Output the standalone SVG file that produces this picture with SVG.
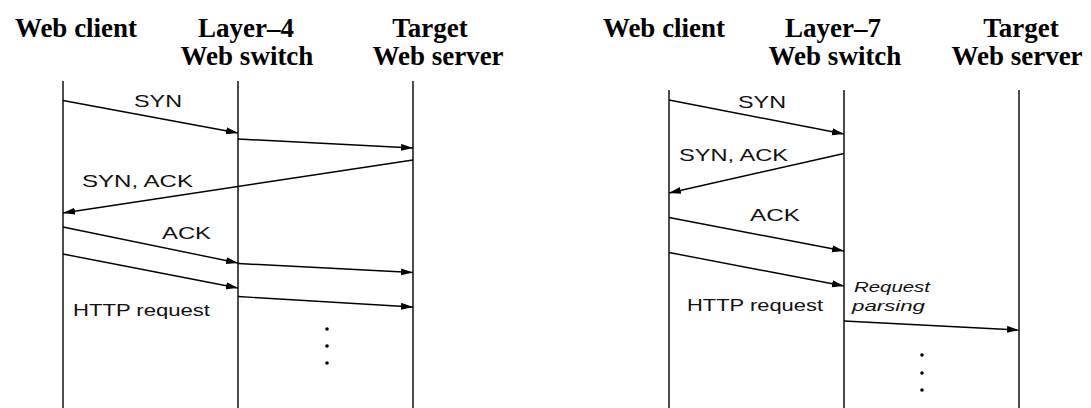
<svg xmlns="http://www.w3.org/2000/svg" width="1091" height="408" viewBox="0 0 1091 408">
<style>
.hdr{font-family:"Liberation Serif","Times New Roman",serif;font-weight:bold;font-size:27px;fill:#000;text-anchor:middle}
.lbl{font-family:"Liberation Sans",Arial,sans-serif;font-size:17px;fill:#111}
.it{font-family:"Liberation Sans",Arial,sans-serif;font-style:italic;font-size:15px;fill:#111}
.life{stroke:#000;stroke-width:1.4;fill:none}
.msg{stroke:#000;stroke-width:1.4;fill:none;marker-end:url(#ah)}
.dot{fill:#000}
</style>
<defs>
<marker id="ah" markerUnits="userSpaceOnUse" markerWidth="13" markerHeight="8" refX="12" refY="3.5" orient="auto">
<path d="M0,0 L12,3.5 L0,7 z" fill="#000"/>
</marker>
</defs>
<rect width="1091" height="408" fill="#fff"/>
<!-- Left panel nodes -->
<g id="l4-client">
<text class="hdr" x="76" y="37">Web client</text>
<line class="life" x1="63" y1="81" x2="63" y2="408"/>
</g>
<g id="l4-switch">
<text class="hdr" x="246" y="37">Layer–4</text>
<text class="hdr" x="247" y="65">Web switch</text>
<line class="life" x1="238" y1="81" x2="238" y2="408"/>
</g>
<g id="l4-server">
<text class="hdr" x="430" y="37">Target</text>
<text class="hdr" x="438" y="65">Web server</text>
<line class="life" x1="413" y1="81" x2="413" y2="408"/>
</g>
<!-- Right panel nodes -->
<g id="l7-client">
<text class="hdr" x="664" y="37">Web client</text>
<line class="life" x1="669" y1="90" x2="669" y2="408"/>
</g>
<g id="l7-switch">
<text class="hdr" x="833" y="37">Layer–7</text>
<text class="hdr" x="835" y="65">Web switch</text>
<line class="life" x1="844" y1="90" x2="844" y2="408"/>
</g>
<g id="l7-server">
<text class="hdr" x="1021" y="37">Target</text>
<text class="hdr" x="1017" y="65">Web server</text>
<line class="life" x1="1019" y1="90" x2="1019" y2="408"/>
</g>
<g id="connectors">
<!-- left -->
<line class="msg" x1="63" y1="100.5" x2="238" y2="133"/>
<line class="msg" x1="238" y1="139" x2="413" y2="148"/>
<line class="msg" x1="413" y1="160" x2="63" y2="213"/>
<line class="msg" x1="63" y1="227" x2="238" y2="263"/>
<line class="msg" x1="238" y1="263.5" x2="413" y2="272.5"/>
<line class="msg" x1="63" y1="254" x2="238" y2="288"/>
<line class="msg" x1="238" y1="296.5" x2="413" y2="307"/>
<!-- right -->
<line class="msg" x1="669" y1="100" x2="844" y2="134"/>
<line class="msg" x1="844" y1="153.5" x2="669" y2="193"/>
<line class="msg" x1="669" y1="217.5" x2="844" y2="251"/>
<line class="msg" x1="669" y1="252.5" x2="844" y2="286"/>
<line class="msg" x1="844" y1="321" x2="1019" y2="330"/>
</g>
<g id="labels">
<text class="lbl" x="134" y="107" textLength="48" lengthAdjust="spacingAndGlyphs">SYN</text>
<text class="lbl" x="82" y="187" textLength="111" lengthAdjust="spacingAndGlyphs">SYN, ACK</text>
<text class="lbl" x="162" y="239" textLength="49" lengthAdjust="spacingAndGlyphs">ACK</text>
<text class="lbl" x="73" y="316" textLength="137" lengthAdjust="spacingAndGlyphs">HTTP request</text>
<text class="lbl" x="738" y="108" textLength="48" lengthAdjust="spacingAndGlyphs">SYN</text>
<text class="lbl" x="679" y="161" textLength="109" lengthAdjust="spacingAndGlyphs">SYN, ACK</text>
<text class="lbl" x="750" y="221" textLength="50" lengthAdjust="spacingAndGlyphs">ACK</text>
<text class="lbl" x="687" y="311" textLength="136" lengthAdjust="spacingAndGlyphs">HTTP request</text>
<text class="it" x="854" y="292" textLength="76" lengthAdjust="spacingAndGlyphs">Request</text>
<text class="it" x="852" y="311" textLength="73" lengthAdjust="spacingAndGlyphs">parsing</text>
</g>
<g id="ellipsis">
<circle class="dot" cx="327" cy="329" r="1.8"/>
<circle class="dot" cx="327" cy="346" r="1.8"/>
<circle class="dot" cx="327" cy="363" r="1.8"/>
<circle class="dot" cx="922" cy="355" r="1.8"/>
<circle class="dot" cx="922" cy="373" r="1.8"/>
<circle class="dot" cx="922" cy="390" r="1.8"/>
</g>
</svg>
